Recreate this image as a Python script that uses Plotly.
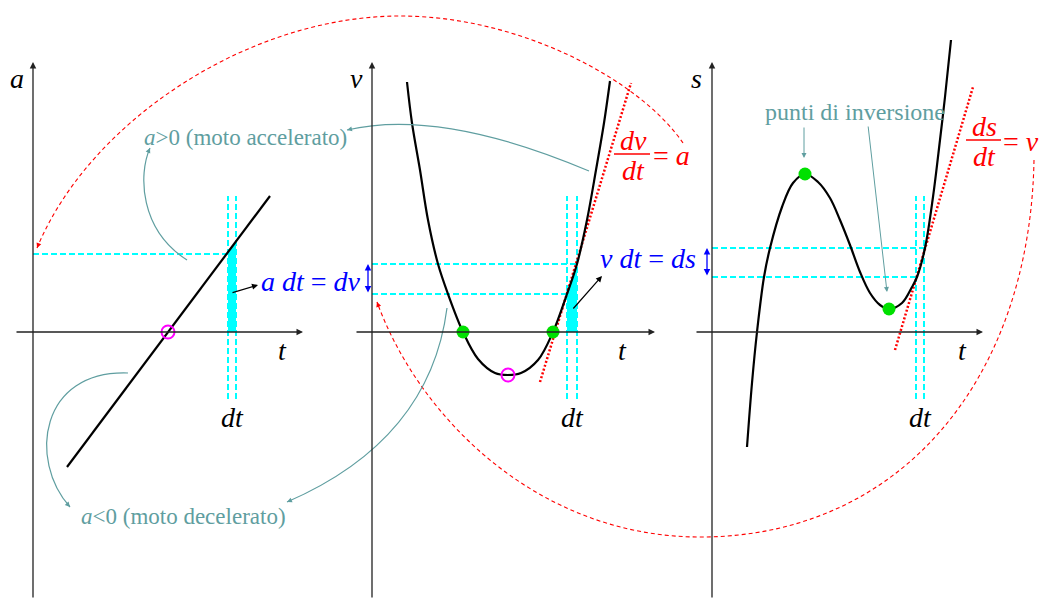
import plotly.graph_objects as go

W, H = 1042, 599

# ---------------- data ----------------
# panel 1: acceleration a(t) (straight line)
a_t = [34, 237]
a_val = [-135, 136]
a_zero_t = [135]
a_zero_val = [0]

# panel 2: velocity v(t)
v_t = [35, 40, 48, 56, 66, 76, 91, 106, 123, 136, 149, 166, 181, 195, 205, 215, 224, 232, 238]
v_val = [250, 209, 162, 112, 68, 38, 0, -27, -41, -43, -41, -28, 0, 38, 68, 112, 162, 209, 251]
v_zero_t = [91, 181]
v_zero_val = [0, 0]
v_min_t = [136]
v_min_val = [-43]
v_tan_t = [168, 259]
v_tan_val = [-50, 249]

# panel 3: position s(t)
s_t = [35, 40, 45, 52, 58, 70, 81, 93, 106, 118, 128, 138, 148, 158, 168, 177,
       190, 200, 205, 213, 221, 228, 233, 239]
s_val = [-115, -51, 0, 55, 84, 125, 149, 158, 150, 134, 112, 87, 60, 39, 27, 23,
         29, 45, 55, 84, 135, 192, 235, 292]
s_ext_t = [93, 177]
s_ext_val = [158, 23]
s_tan_t = [183, 261]
s_tan_val = [-18, 245]

# dt strips and guide levels
dt_a = [195, 203]
a_strip_top = [80, 91]
a_level = 78
dt_v = [195, 205]
dv_levels = [38, 68]
dt_s = [204, 212]
ds_levels = [55, 84]
guide_span = [-67, 136]

# ---------------- styling ----------------
MATH = "Liberation Serif"
TEAL = "#5f9ea0"
CYAN = "#00ffff"
GREEN = "#00e000"
RED = "#ff0000"
BLUE = "#0000ff"
AXC = "#222222"
MS = 28   # math font size
TS = 23   # teal text size

fig = go.Figure()

panels = [("x", "y"), ("x2", "y2"), ("x3", "y3")]


def add_line(xr, yr, xs, ys, color, width, dash=None):
    fig.add_trace(go.Scatter(x=xs, y=ys, mode="lines", xaxis=xr, yaxis=yr,
                             line=dict(color=color, width=width, dash=dash),
                             hoverinfo="skip", showlegend=False, cliponaxis=False))


def add_fill(xr, yr, xs, ys):
    fig.add_trace(go.Scatter(x=xs, y=ys, mode="lines", fill="toself", fillcolor=CYAN,
                             xaxis=xr, yaxis=yr, line=dict(width=0, color=CYAN),
                             hoverinfo="skip", showlegend=False))


def add_pts(xr, yr, xs, ys, symbol, color):
    if symbol == "open":
        m = dict(symbol="circle-open", size=13, color="magenta", line=dict(width=2, color="magenta"))
    else:
        m = dict(symbol="circle", size=13, color=color, line=dict(width=0))
    fig.add_trace(go.Scatter(x=xs, y=ys, mode="markers", xaxis=xr, yaxis=yr, marker=m,
                             hoverinfo="skip", showlegend=False, cliponaxis=False))


DASH_C = "6px,3px"

# --- panel 1 ---
x1, y1 = panels[0]
add_fill(x1, y1, [dt_a[0], dt_a[0], dt_a[1], dt_a[1]], [0, a_strip_top[0], a_strip_top[1], 0])
for tt in dt_a:
    add_line(x1, y1, [tt, tt], guide_span, CYAN, 2, DASH_C)
add_line(x1, y1, [0, dt_a[0]], [a_level, a_level], CYAN, 2, DASH_C)
add_line(x1, y1, a_t, a_val, "black", 2.2)
add_pts(x1, y1, a_zero_t, a_zero_val, "open", None)

# --- panel 2 ---
x2, y2 = panels[1]
add_fill(x2, y2, [dt_v[0], dt_v[0], dt_v[1], dt_v[1]], [0, dv_levels[0], dv_levels[1], 0])
for tt in dt_v:
    add_line(x2, y2, [tt, tt], guide_span, CYAN, 2, DASH_C)
add_line(x2, y2, [0, dt_v[0]], [dv_levels[0], dv_levels[0]], CYAN, 2, DASH_C)
add_line(x2, y2, [0, dt_v[1]], [dv_levels[1], dv_levels[1]], CYAN, 2, DASH_C)
add_line(x2, y2, v_tan_t, v_tan_val, RED, 2.5, "2px,2px")
fig.add_trace(go.Scatter(x=v_t, y=v_val, mode="lines", xaxis=x2, yaxis=y2,
                         line=dict(color="black", width=2.2, shape="spline", smoothing=1),
                         hoverinfo="skip", showlegend=False, cliponaxis=False))
add_pts(x2, y2, v_zero_t, v_zero_val, "fill", GREEN)
add_pts(x2, y2, v_min_t, v_min_val, "open", None)

# --- panel 3 ---
x3, y3 = panels[2]
for tt in dt_s:
    add_line(x3, y3, [tt, tt], guide_span, CYAN, 2, DASH_C)
add_line(x3, y3, [0, dt_s[1]], [ds_levels[1], ds_levels[1]], CYAN, 2, DASH_C)
add_line(x3, y3, [0, dt_s[0]], [ds_levels[0], ds_levels[0]], CYAN, 2, DASH_C)
add_line(x3, y3, s_tan_t, s_tan_val, RED, 2.5, "2px,2px")
fig.add_trace(go.Scatter(x=s_t, y=s_val, mode="lines", xaxis=x3, yaxis=y3,
                         line=dict(color="black", width=2.2, shape="spline", smoothing=1),
                         hoverinfo="skip", showlegend=False, cliponaxis=False))
add_pts(x3, y3, s_ext_t, s_ext_val, "fill", GREEN)

# overlay (pixel) axis for cross-panel decorations
fig.add_trace(go.Scatter(x=[0], y=[0], mode="markers", xaxis="x4", yaxis="y4",
                         marker=dict(size=1, opacity=0), hoverinfo="skip", showlegend=False))

annotations = []
shapes = []

# axes with arrows
axis_specs = [  # (xref, yref, x_tail, x_tip, y_tip, axis label, t label x)
    ("x", "y", -18, 270, 270, "a", 249),
    ("x2", "y2", -17, 283, 270, "v", 250),
    ("x3", "y3", -17, 271, 270, "s", 250),
]
for xr, yr, xt0, xt1, yt1, lab, tlab in axis_specs:
    annotations.append(dict(x=xt1, y=0, ax=xt0, ay=0, xref=xr, yref=yr, axref=xr, ayref=yr,
                            text="", showarrow=True, arrowhead=2, arrowsize=1, arrowwidth=1.3,
                            arrowcolor=AXC, standoff=0))
    annotations.append(dict(x=0, y=yt1, ax=0, ay=-267, xref=xr, yref=yr, axref=xr, ayref=yr,
                            text="", showarrow=True, arrowhead=2, arrowsize=1, arrowwidth=1.3,
                            arrowcolor=AXC, standoff=0))
    annotations.append(dict(x=-16, y=254, xref=xr, yref=yr, text="<i>%s</i>" % lab, showarrow=False,
                            font=dict(family=MATH, size=MS, color="black")))
    annotations.append(dict(x=tlab, y=-18, xref=xr, yref=yr, text="<i>t</i>", showarrow=False,
                            font=dict(family=MATH, size=MS, color="black")))

for xr, yr, dts in [("x", "y", dt_a), ("x2", "y2", dt_v), ("x3", "y3", dt_s)]:
    annotations.append(dict(x=(dts[0] + dts[1]) / 2, y=-85, xref=xr, yref=yr, text="<i>dt</i>",
                            showarrow=False, font=dict(family=MATH, size=MS, color="black")))


def txt(x, y, t, color, size, xanchor="center", family=MATH):
    annotations.append(dict(x=x, y=y, xref="x4", yref="y4", text=t, showarrow=False,
                            xanchor=xanchor, yanchor="middle",
                            font=dict(family=family, size=size, color=color)))


def arrow(tip, tail, color, width=1.0, both=False, size=1.0):
    annotations.append(dict(x=tip[0], y=tip[1], ax=tail[0], ay=tail[1], xref="x4", yref="y4",
                            axref="x4", ayref="y4", text="", showarrow=True, arrowhead=2,
                            arrowsize=size, arrowwidth=width, arrowcolor=color,
                            arrowside="end+start" if both else "end",
                            startarrowhead=2, startarrowsize=size, standoff=0, startstandoff=0))


def head(tip, frm, color):
    dx, dy = tip[0] - frm[0], tip[1] - frm[1]
    n = (dx * dx + dy * dy) ** 0.5
    arrow(tip, (tip[0] - dx / n * 6, tip[1] - dy / n * 6), color, width=1.0)


def curve(path, color, width=1.0, dash=None):
    shapes.append(dict(type="path", path=path, xref="x4", yref="y4",
                       line=dict(color=color, width=width, dash=dash)))


# red dashed arcs
curve("M 683 143 C 640 80 520 16 400 16 C 250 16 90 120 37 248", RED, 1.1, "4px,3px")
head((37, 248), (90, 120), RED)
curve("M 1034 160 C 1030 380 900 537 700 537 C 540 537 420 420 377 302", RED, 1.1, "4px,3px")
head((377, 302), (420, 420), RED)

# teal curved arrows
curve("M 589 171 Q 440 108 347 130", TEAL, 1.2)
head((347, 130), (440, 108), TEAL)
curve("M 447 308 Q 430 440 287 502", TEAL, 1.2)
head((287, 502), (430, 440), TEAL)
curve("M 187 260 C 140 230 138 175 150 148", TEAL, 1.2)
head((150, 148), (138, 175), TEAL)
curve("M 128 373 C 40 370 28 460 70 507", TEAL, 1.2)
head((70, 507), (28, 460), TEAL)

# teal texts
txt(245, 137, "<i>a</i>&gt;0 (moto accelerato)", TEAL, TS)
txt(183, 516, "<i>a</i>&lt;0 (moto decelerato)", TEAL, TS)
txt(855, 112, "punti di inversione", TEAL, TS + 1)
arrow((804, 158), (804, 126), TEAL, 1.0)
arrow((887, 292), (868, 125), TEAL, 1.0)

# blue relations
txt(259, 281, "<i>a dt</i> = <i>dv</i>", BLUE, MS, "left")
txt(598, 258, "<i>v dt</i> = <i>ds</i>", BLUE, MS, "left")
arrow((258, 285), (231, 293), "black", 1.2)
arrow((602, 276), (572, 310), "black", 1.2)
arrow((368, 264), (368, 294), BLUE, 1.3, both=True)
arrow((707, 248), (707, 277), BLUE, 1.3, both=True)

# red fractions
txt(633, 140, "<i>dv</i>", RED, MS)
txt(633, 170, "<i>dt</i>", RED, MS)
shapes.append(dict(type="line", x0=614, x1=650, y0=154, y1=154, xref="x4", yref="y4",
                   line=dict(color=RED, width=1.6)))
txt(651, 155, "= <i>a</i>", RED, MS, "left")
txt(984, 126, "<i>ds</i>", RED, MS)
txt(984, 156, "<i>dt</i>", RED, MS)
shapes.append(dict(type="line", x0=966, x1=1001, y0=140, y1=140, xref="x4", yref="y4",
                   line=dict(color=RED, width=1.6)))
txt(1001, 141, "= <i>v</i>", RED, MS, "left")

ax_common = dict(visible=False, fixedrange=True, showgrid=False, zeroline=False)
fig.update_layout(
    width=W, height=H, margin=dict(l=0, r=0, t=0, b=0),
    paper_bgcolor="white", plot_bgcolor="rgba(0,0,0,0)", showlegend=False,
    xaxis=dict(domain=[0, 340 / W], range=[-33, 307], anchor="y", **ax_common),
    yaxis=dict(domain=[0, 1], range=[-267, 332], anchor="x", **ax_common),
    xaxis2=dict(domain=[340 / W, 680 / W], range=[-32, 308], anchor="y2", **ax_common),
    yaxis2=dict(domain=[0, 1], range=[-267, 332], anchor="x2", **ax_common),
    xaxis3=dict(domain=[680 / W, 1], range=[-32, 330], anchor="y3", **ax_common),
    yaxis3=dict(domain=[0, 1], range=[-267, 332], anchor="x3", **ax_common),
    xaxis4=dict(domain=[0, 1], range=[0, W], anchor="y4", **ax_common),
    yaxis4=dict(domain=[0, 1], range=[H, 0], anchor="x4", **ax_common),
    annotations=annotations, shapes=shapes,
)

fig.write_html("out.html", config={"displayModeBar": False},
               post_script="document.body.style.margin='0px';document.body.style.overflow='hidden';")
